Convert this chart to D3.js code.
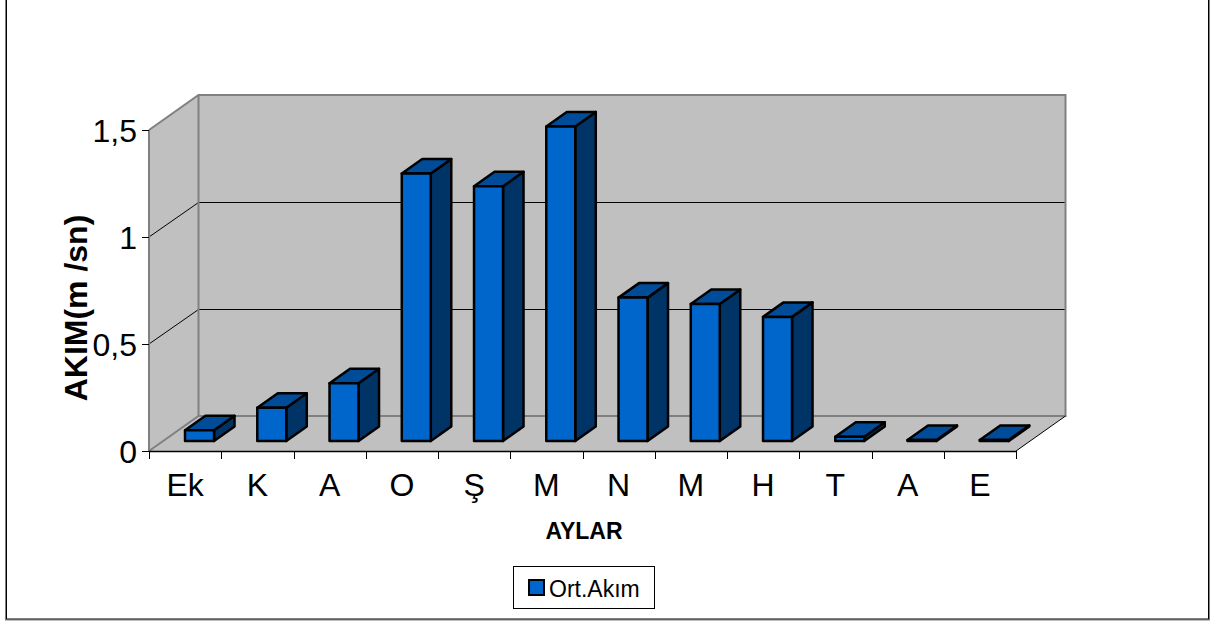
<!DOCTYPE html>
<html>
<head>
<meta charset="utf-8">
<script src="https://cdn.jsdelivr.net/npm/d3@7/dist/d3.min.js"></script>
<style>
html,body{margin:0;padding:0;background:#fff}
svg{display:block}
text{font-family:"Liberation Sans",Arial,sans-serif;fill:#000}
</style>
</head>
<body>
<svg id="chart" width="1221" height="621"></svg>
<script>
// Monthly mean flow, October to September
const months = ["Ek","K","A","O","Ş","M","N","M","H","T","A","E"];
const meanFlow = [0.05,0.155,0.27,1.25,1.19,1.47,0.67,0.64,0.58,0.02,0.005,0.005];
const yTicks = [0,0.5,1,1.5];
const seriesName = "Ort.Akım";
const yTitle = "AKIM(m /sn)";
const xTitle = "AYLAR";

const svg = d3.select("#chart");

// Double-toned frame around the chart; its top edge lies above the page
svg.append("rect").attr("x",5.5).attr("y",-5).attr("width",1204).attr("height",625)
  .attr("fill","#fff").attr("stroke","#808080").attr("stroke-width",1);
svg.append("rect").attr("x",6.5).attr("y",-5).attr("width",1202).attr("height",624)
  .attr("fill","#fff").attr("stroke","#000").attr("stroke-width",1);

// Front plane of the 3D box and its depth offset
const x = d3.scaleBand().domain(d3.range(months.length)).range([149,1016]);
const y = d3.scaleLinear().domain([0,1.5]).range([451,130]);
const depthX = 49.5, depthY = -35;

const wall = svg.append("g");
const [x0,x1] = x.range();
const y0 = y(0), yTop = y(1.5);
const pts = a => a.map(p=>p.join(",")).join(" ");

// Floor, side wall and back wall
wall.append("polygon")
  .attr("points",pts([[x0,y0],[x1,y0],[x1+depthX,y0+depthY],[x0+depthX,y0+depthY]]))
  .attr("fill","#c0c0c0");
wall.append("polygon")
  .attr("points",pts([[x0,y0],[x0,yTop],[x0+depthX,yTop+depthY],[x0+depthX,y0+depthY]]))
  .attr("fill","#c0c0c0");
wall.append("rect")
  .attr("x",x0+depthX).attr("y",yTop+depthY)
  .attr("width",x1-x0).attr("height",y0-yTop)
  .attr("fill","#c0c0c0");

// Gridlines on the side and back walls, snapped to the pixel grid
yTicks.filter(t=>t>0 && t<1.5).forEach(t=>{
  const gy = Math.round(y(t));
  wall.append("polyline")
    .attr("points",pts([[x0,gy],[x0+depthX,gy+depthY+0.5],[x1+depthX,gy+depthY+0.5]]))
    .attr("fill","none").attr("stroke","#000").attr("stroke-width",1);
});

// Wall outlines
const grey = "#808080";
wall.append("polyline")
  .attr("points",pts([[x0,y0],[x0+depthX,y0+depthY],[x1+depthX,y0+depthY],[x1+depthX,yTop+depthY],[x0+depthX,yTop+depthY],[x0,yTop]]))
  .attr("fill","none").attr("stroke",grey).attr("stroke-width",2);
wall.append("line")
  .attr("x1",x0+depthX).attr("x2",x0+depthX).attr("y1",y0+depthY).attr("y2",yTop+depthY)
  .attr("stroke",grey).attr("stroke-width",2);
wall.append("line")
  .attr("x1",x1).attr("y1",y0).attr("x2",x1+depthX).attr("y2",y0+depthY)
  .attr("stroke","#000").attr("stroke-width",1);

// Axis lines and ticks
const axes = svg.append("g").attr("stroke","#000").attr("stroke-width",1);
axes.append("line").attr("x1",x0).attr("x2",x0).attr("y1",yTop).attr("y2",y0).attr("stroke",grey).attr("stroke-width",2);
axes.append("line").attr("x1",x0).attr("x2",x1).attr("y1",y0+0.5).attr("y2",y0+0.5).attr("stroke-width",1.5);
yTicks.forEach(t=>{
  axes.append("line").attr("x1",x0-7).attr("x2",x0).attr("y1",y(t)+0.5).attr("y2",y(t)+0.5);
  svg.append("text").attr("x",x0-12).attr("y",y(t)).attr("dy","0.36em")
    .attr("text-anchor","end").attr("font-size",32)
    .text(String(t).replace(".",","));
});
d3.range(months.length+1).forEach(i=>{
  const px = Math.round(x0+i*x.step())+0.5;
  axes.append("line").attr("x1",px).attr("x2",px).attr("y1",y0).attr("y2",y0+8);
});

// Month labels
svg.selectAll("text.month").data(months).join("text").attr("class","month")
  .attr("x",(d,i)=>x(i)+x.bandwidth()/2).attr("y",496)
  .attr("text-anchor","middle").attr("font-size",32).text(d=>d);

// Bars: front face, top and side, drawn with their own smaller depth
const barW = 29, barDX = 20.5, barDY = -14.5, baseOffX = 14.4, baseOffY = -10;
const bars = svg.selectAll("g.bar").data(meanFlow).join("g").attr("class","bar")
  .attr("stroke","#000").attr("stroke-width",2.5).attr("stroke-linejoin","round");
const left = i => x(i)+x.bandwidth()/2+baseOffX-barW/2;
const topY = d => y(d)+baseOffY;
const bottomY = y(0)+baseOffY;
bars.append("polygon").attr("fill","#003366")
  .attr("points",(d,i)=>pts([[left(i)+barW,bottomY],[left(i)+barW,topY(d)],[left(i)+barW+barDX,topY(d)+barDY],[left(i)+barW+barDX,bottomY+barDY]]));
bars.append("polygon").attr("fill","#004c99")
  .attr("points",(d,i)=>pts([[left(i),topY(d)],[left(i)+barW,topY(d)],[left(i)+barW+barDX,topY(d)+barDY],[left(i)+barDX,topY(d)+barDY]]));
bars.append("rect").attr("fill","#0066cc")
  .attr("x",(d,i)=>left(i)).attr("y",d=>topY(d))
  .attr("width",barW).attr("height",d=>bottomY-topY(d));

// Axis titles
svg.append("text").attr("transform","translate(87,308) rotate(-90)")
  .attr("text-anchor","middle").attr("font-size",32).attr("font-weight","bold").text(yTitle);
svg.append("text").attr("x",584).attr("y",539).attr("text-anchor","middle")
  .attr("font-size",23).attr("font-weight","bold").text(xTitle);

// Legend
const legend = svg.append("g");
legend.append("rect").attr("x",513.5).attr("y",566.5).attr("width",141).attr("height",42)
  .attr("fill","#fff").attr("stroke","#000").attr("stroke-width",1);
legend.append("rect").attr("x",529).attr("y",580).attr("width",15).attr("height",15)
  .attr("fill","#0066cc").attr("stroke","#000").attr("stroke-width",2);
legend.append("text").attr("x",549).attr("y",597).attr("font-size",23).text(seriesName);
</script>
</body>
</html>
